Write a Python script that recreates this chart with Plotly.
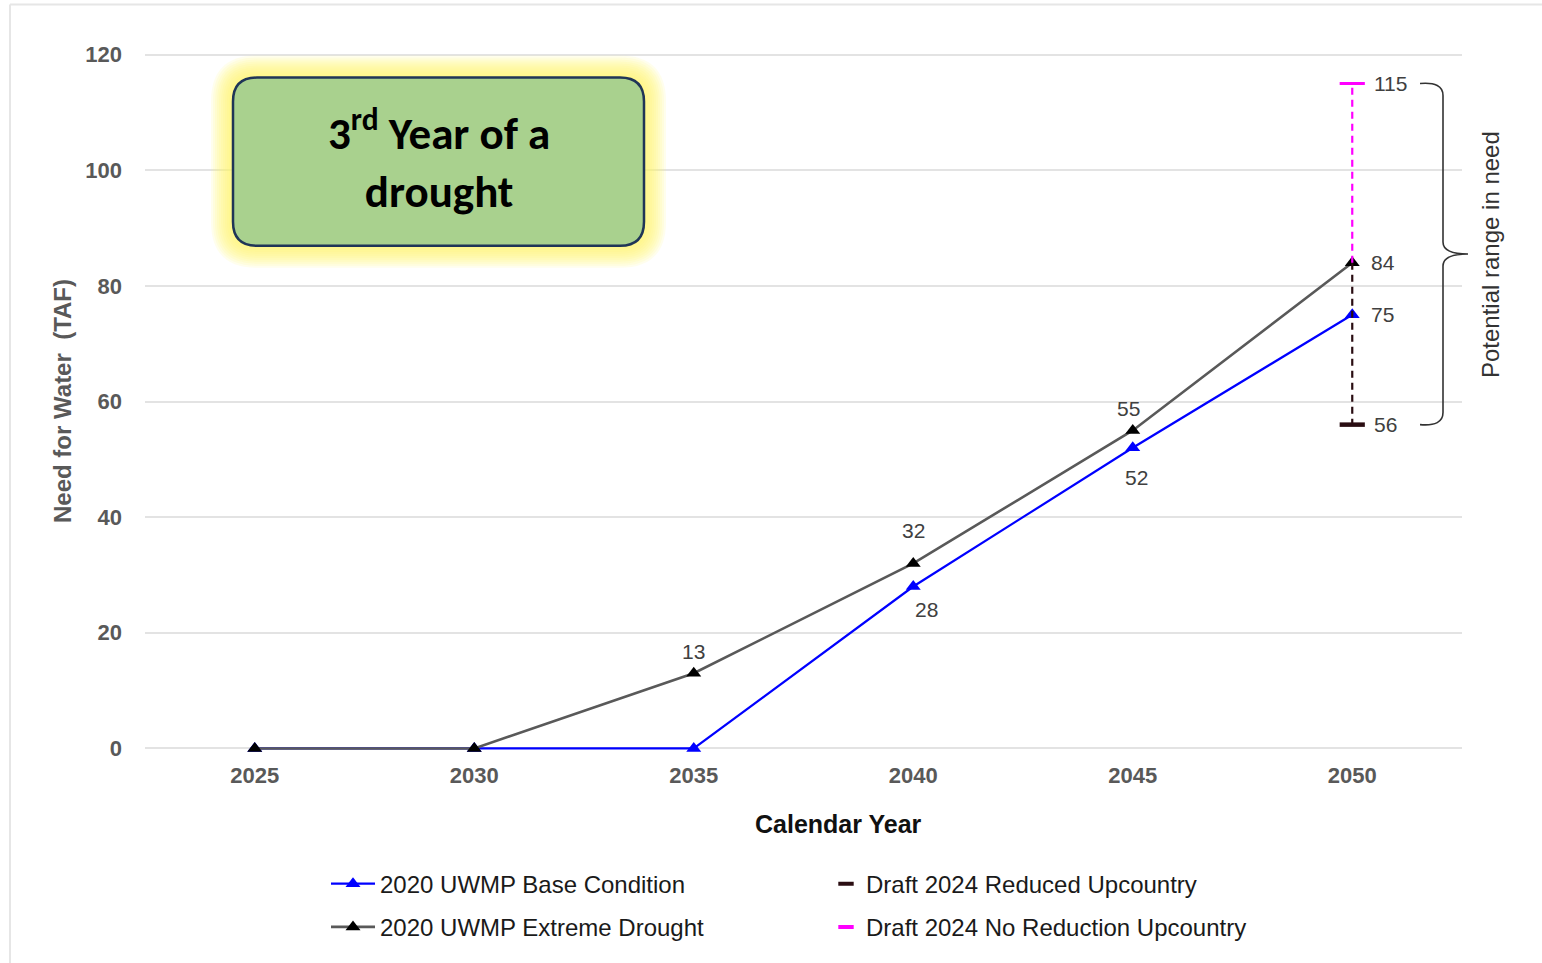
import plotly.graph_objects as go

# ---- data -------------------------------------------------------------
years = [2025, 2030, 2035, 2040, 2045, 2050]
base_condition = [0, 0, 0, 28, 52, 75]          # 2020 UWMP Base Condition
extreme_drought = [0, 0, 13, 32, 55, 84]        # 2020 UWMP Extreme Drought
draft_year = 2050
reduced_upcountry = 56                          # Draft 2024 Reduced Upcountry
no_reduction_upcountry = 115                    # Draft 2024 No Reduction Upcountry
y_ticks = [0, 20, 40, 60, 80, 100, 120]
x_ticks = years

# ---- page geometry (pixels) -------------------------------------------
W, H = 1542, 963
X0, X1 = 145, 1462
Y_RANGE = [-2, 122]
Y_TOP, Y_BOT = 43.45, 759.55


def fx(px):
    return (px - X0) / (X1 - X0)


def fy(py):
    return (Y_BOT - py) / (Y_BOT - Y_TOP)


def rounded_rect(l, t, r, b, rad):
    return (f"M {fx(l+rad)},{fy(t)} L {fx(r-rad)},{fy(t)} "
            f"Q {fx(r)},{fy(t)} {fx(r)},{fy(t+rad)} L {fx(r)},{fy(b-rad)} "
            f"Q {fx(r)},{fy(b)} {fx(r-rad)},{fy(b)} L {fx(l+rad)},{fy(b)} "
            f"Q {fx(l)},{fy(b)} {fx(l)},{fy(b-rad)} L {fx(l)},{fy(t+rad)} "
            f"Q {fx(l)},{fy(t)} {fx(l+rad)},{fy(t)} Z")


BLUE = "#0000ff"
GRAY = "#595959"
DARK = "#2a0d12"
MAGENTA = "#ff00ff"
SANS = "Liberation Sans, Arial"
LABEL_FONT = dict(family=SANS, size=21, color="#404040")
LEGEND_FONT = dict(family=SANS, size=24, color="#1a1a1a")

fig = go.Figure()

# main series
fig.add_trace(go.Scatter(
    x=years, y=base_condition, name="2020 UWMP Base Condition",
    mode="lines+markers", legend="legend", legendgroup="a", cliponaxis=False,
    line=dict(color=BLUE, width=2.2),
    marker=dict(symbol="triangle-up", size=13, color=BLUE)))
fig.add_trace(go.Scatter(
    x=years, y=extreme_drought, name="2020 UWMP Extreme Drought",
    mode="lines+markers", legend="legend", legendgroup="b", cliponaxis=False,
    line=dict(color=GRAY, width=2.6),
    marker=dict(symbol="triangle-up", size=13, color="#000000")))

# range of the 2024 drafts at 2050
fig.add_trace(go.Scatter(
    x=[draft_year, draft_year], y=[extreme_drought[-1], reduced_upcountry],
    mode="lines", showlegend=False, hoverinfo="skip",
    line=dict(color=DARK, width=2.2, dash="7px,5px")))
fig.add_trace(go.Scatter(
    x=[draft_year, draft_year], y=[extreme_drought[-1], no_reduction_upcountry],
    mode="lines", showlegend=False, hoverinfo="skip",
    line=dict(color=MAGENTA, width=2.2, dash="7px,5px")))
fig.add_trace(go.Scatter(
    x=[draft_year], y=[reduced_upcountry], name="Draft 2024 Reduced Upcountry",
    mode="markers", showlegend=False, legendgroup="c", cliponaxis=False,
    marker=dict(symbol="line-ew", size=18, color=DARK,
                line=dict(color=DARK, width=4.5))))
fig.add_trace(go.Scatter(
    x=[draft_year], y=[no_reduction_upcountry], name="Draft 2024 No Reduction Upcountry",
    mode="markers", showlegend=False, legendgroup="d", cliponaxis=False,
    marker=dict(symbol="line-ew", size=18, color=MAGENTA,
                line=dict(color=MAGENTA, width=3))))

# legend entries for the two drafts (short, thick dashes)
for name, color, grp in (("Draft 2024 Reduced Upcountry", DARK, "c"),
                         ("Draft 2024 No Reduction Upcountry", MAGENTA, "d")):
    fig.add_trace(go.Scatter(
        x=[None], y=[None], name=name, mode="markers", legend="legend2", legendgroup=grp,
        marker=dict(symbol="line-ew", size=11, color=color, line=dict(color=color, width=4))))

annotations = []

# value labels (pixel offsets from each point)
ext_offsets = {2035: (0, 22), 2040: (0, 33), 2045: (-4, 22)}
base_offsets = {2040: (13, -23), 2045: (4, -30)}
for yr, v in zip(years, extreme_drought):
    if yr in ext_offsets:
        dx, dy = ext_offsets[yr]
        annotations.append(dict(x=yr, y=v, text=str(v), showarrow=False,
                                xanchor="center", yanchor="middle",
                                xshift=dx, yshift=dy, font=LABEL_FONT))
for yr, v in zip(years, base_condition):
    if yr in base_offsets:
        dx, dy = base_offsets[yr]
        annotations.append(dict(x=yr, y=v, text=str(v), showarrow=False,
                                xanchor="center", yanchor="middle",
                                xshift=dx, yshift=dy, font=LABEL_FONT))
for v in (extreme_drought[-1], base_condition[-1]):
    annotations.append(dict(x=years[-1], y=v, text=str(v), showarrow=False,
                            xanchor="left", yanchor="middle", xshift=17, font=LABEL_FONT))
for v in (no_reduction_upcountry, reduced_upcountry):
    annotations.append(dict(x=draft_year, y=v, text=str(v), showarrow=False,
                            xanchor="left", yanchor="middle", xshift=20, font=LABEL_FONT))

# range bracket caption
annotations.append(dict(xref="paper", yref="y", x=fx(1490), y=(no_reduction_upcountry + reduced_upcountry) / 2,
                        xanchor="center", yanchor="middle",
                        text="Potential range in need", textangle=-90, showarrow=False,
                        font=dict(family=SANS, size=24, color="#333333")))

# axis titles
annotations.append(dict(xref="paper", yref="paper", x=fx(838), y=fy(823),
                        xanchor="center", yanchor="middle",
                        text="<b>Calendar Year</b>", showarrow=False,
                        font=dict(family=SANS, size=25, color="#111111")))
annotations.append(dict(xref="paper", yref="paper", x=fx(63), y=fy(401),
                        xanchor="center", yanchor="middle",
                        text="<b>Need for Water  (TAF)</b>", textangle=-90, showarrow=False,
                        font=dict(family=SANS, size=24, color="#595959")))

# callout text
annotations.append(dict(xref="paper", yref="paper", x=fx(438.5), y=fy(160),
                        xanchor="center", yanchor="middle",
                        text="<b>3<sup>rd</sup> Year of a<br>drought</b>", showarrow=False,
                        font=dict(family="Carlito, Lato, Open Sans", size=45, color="#000000")))

shapes = []
# outer frame
shapes.append(dict(type="line", xref="paper", yref="paper", x0=fx(10), x1=fx(1545),
                   y0=fy(5), y1=fy(5), line=dict(color="#e6e6e6", width=2)))
shapes.append(dict(type="line", xref="paper", yref="paper", x0=fx(10), x1=fx(10),
                   y0=fy(5), y1=fy(970), line=dict(color="#e6e6e6", width=2)))

# glow around the callout
for d in range(22, 0, -2):
    shapes.append(dict(type="path", xref="paper", yref="paper",
                       path=rounded_rect(233 - d, 78 - d, 644 + d, 246 + d, 24 + d),
                       fillcolor="rgba(255,245,110,0.12)", line=dict(width=0), layer="above"))
shapes.append(dict(type="path", xref="paper", yref="paper",
                   path=rounded_rect(233, 78, 644, 246, 24),
                   fillcolor="#a9d18e", line=dict(color="#1f3557", width=2.5), layer="above"))

# curly bracket spanning the draft range
top, bot = no_reduction_upcountry, reduced_upcountry
mid = (top + bot) / 2
u = 1 / 5.775  # data units per pixel
bx0, bx1, bx2 = fx(1420), fx(1443), fx(1468)
brace = (f"M {bx0},{top} Q {bx1},{top + 2*u} {bx1},{top - 12*u} "
         f"L {bx1},{mid + 12*u} Q {bx1},{mid} {bx2},{mid} "
         f"Q {bx1},{mid} {bx1},{mid - 12*u} L {bx1},{bot + 12*u} "
         f"Q {bx1},{bot - 2*u} {bx0},{bot}")
shapes.append(dict(type="path", xref="paper", yref="y", path=brace,
                   line=dict(color="#333333", width=1.6)))

fig.update_layout(
    width=W, height=H,
    margin=dict(l=X0, r=W - X1, t=Y_TOP, b=H - Y_BOT, autoexpand=False),
    paper_bgcolor="white", plot_bgcolor="white",
    showlegend=True,
    legend=dict(orientation="v", x=fx(326), y=fy(861), xanchor="left", yanchor="top",
                itemwidth=44, tracegroupgap=9, traceorder="grouped",
                bgcolor="rgba(0,0,0,0)", font=LEGEND_FONT),
    legend2=dict(orientation="v", x=fx(826), y=fy(861), xanchor="left", yanchor="top",
                 itemwidth=30, tracegroupgap=9, traceorder="grouped",
                 bgcolor="rgba(0,0,0,0)", font=LEGEND_FONT),
    xaxis=dict(range=[2022.5, 2052.5], tickvals=x_ticks, showgrid=False, zeroline=False,
               showline=False, ticks="", ticklabelstandoff=0,
               tickfont=dict(family=SANS, size=22, color="#595959", weight="bold")),
    yaxis=dict(range=Y_RANGE, tickvals=y_ticks, showgrid=True, gridcolor="#e3e3e3", gridwidth=1.5,
               zeroline=False, showline=False, ticks="", ticklabelstandoff=22,
               tickfont=dict(family=SANS, size=22, color="#595959", weight="bold")),
    annotations=annotations,
    shapes=shapes,
)

fig.write_html("out.html")
